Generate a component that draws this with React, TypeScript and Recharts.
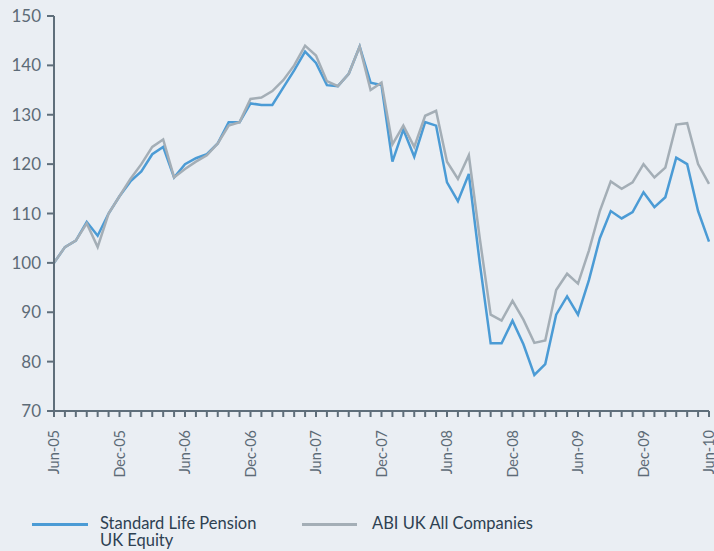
import { LineChart, Line, XAxis, YAxis, Legend } from 'recharts'

// Monthly, Jun-05 .. Jun-10 (61 points)
const MONTHS = [
  'Jun-05', 'Jul-05', 'Aug-05', 'Sep-05', 'Oct-05', 'Nov-05',
  'Dec-05', 'Jan-06', 'Feb-06', 'Mar-06', 'Apr-06', 'May-06',
  'Jun-06', 'Jul-06', 'Aug-06', 'Sep-06', 'Oct-06', 'Nov-06',
  'Dec-06', 'Jan-07', 'Feb-07', 'Mar-07', 'Apr-07', 'May-07',
  'Jun-07', 'Jul-07', 'Aug-07', 'Sep-07', 'Oct-07', 'Nov-07',
  'Dec-07', 'Jan-08', 'Feb-08', 'Mar-08', 'Apr-08', 'May-08',
  'Jun-08', 'Jul-08', 'Aug-08', 'Sep-08', 'Oct-08', 'Nov-08',
  'Dec-08', 'Jan-09', 'Feb-09', 'Mar-09', 'Apr-09', 'May-09',
  'Jun-09', 'Jul-09', 'Aug-09', 'Sep-09', 'Oct-09', 'Nov-09',
  'Dec-09', 'Jan-10', 'Feb-10', 'Mar-10', 'Apr-10', 'May-10',
  'Jun-10',
]

const STANDARD_LIFE = [
  100, 103.2, 104.5, 108.3, 105.5, 110, 113.5, 116.5, 118.5, 122, 123.5, 117.3,
  120, 121.2, 122, 124.2, 128.5, 128.5, 132.3, 132, 132, 135.5, 139, 142.8,
  140.5, 136, 135.8, 138.3, 143.8, 136.5, 136, 120.5, 127, 121.5, 128.5, 127.8,
  116.3, 112.5, 118, 100, 83.7, 83.7, 88.3, 83.5, 77.3, 79.5, 89.5, 93.2,
  89.5, 96.5, 105, 110.5, 109, 110.3, 114.3, 111.3, 113.3, 121.3, 120, 110.5,
  104.3,
]

const ABI_UK = [
  100, 103.2, 104.5, 108, 103.2, 110, 113.5, 117, 120, 123.5, 125, 117.3,
  119, 120.5, 121.8, 124.2, 127.8, 128.5, 133.2, 133.5, 134.8, 137, 140, 144,
  142, 136.8, 135.8, 138.3, 143.8, 135, 136.5, 124, 127.8, 123.5, 129.8, 130.8,
  120.5, 117, 121.8, 105, 89.5, 88.3, 92.3, 88.5, 83.8, 84.3, 94.5, 97.8,
  95.8, 102.5, 110.5, 116.5, 115, 116.3, 120, 117.3, 119.3, 128, 128.3, 120,
  116,
]

const Y_TICKS = [70, 80, 90, 100, 110, 120, 130, 140, 150]

const BLUE = '#4b9bd5'
const GREY = '#a4aeb6'
const AXIS = '#5f6e7a'
const FONT = 'Lato, "Open Sans", sans-serif'

const rows = MONTHS.map((m, i) => ({ month: m, sl: STANDARD_LIFE[i], abi: ABI_UK[i] }))

function MonthTick(props: any) {
  const { x, y, payload, index } = props
  if (index % 6 !== 0) return null
  return (
    <text
      x={x}
      y={y + 11}
      dy="0.35em"
      transform={`rotate(-90, ${x}, ${y + 11})`}
      textAnchor="end"
      fill="#5d6b77"
      fontSize={14.5}
      fontFamily={FONT}
    >
      {payload.value}
    </text>
  )
}

function LegendBox() {
  const text = { color: '#2e4152', fontSize: 16.5, fontFamily: FONT, lineHeight: '16.5px' }
  return (
    <div style={{ position: 'relative', width: 714, height: 40 }}>
      <div style={{ position: 'absolute', left: 32, top: 12, width: 56, height: 3, background: BLUE }} />
      <div style={{ position: 'absolute', left: 100, top: 4, ...text }}>
        Standard Life Pension
        <br />
        UK Equity
      </div>
      <div style={{ position: 'absolute', left: 302, top: 12, width: 55, height: 3, background: GREY }} />
      <div style={{ position: 'absolute', left: 372, top: 4, ...text }}>ABI UK All Companies</div>
    </div>
  )
}

export default function App() {
  return (
    <div style={{ position: 'absolute', left: 0, top: 0, width: 714, height: 551, background: '#eaeef3' }}>
      <LineChart width={714} height={551} data={rows} margin={{ top: 16, right: 5, left: 0, bottom: 40 }}>
        <XAxis
          dataKey="month"
          interval={0}
          height={60}
          tick={<MonthTick />}
          tickSize={6}
          stroke={AXIS}
          strokeWidth={2}
        />
        <YAxis
          domain={[70, 150]}
          ticks={Y_TICKS}
          width={54}
          tickSize={7}
          tickMargin={6}
          stroke={AXIS}
          strokeWidth={2}
          tick={{ fill: '#5d6b77', fontSize: 17, fontFamily: FONT }}
        />
        <Line
          dataKey="sl"
          stroke={BLUE}
          strokeWidth={2.5}
          dot={false}
          isAnimationActive={false}
          strokeLinejoin="miter"
        />
        <Line
          dataKey="abi"
          stroke={GREY}
          strokeWidth={2.5}
          dot={false}
          isAnimationActive={false}
          strokeLinejoin="miter"
        />
        <Legend
          content={() => <LegendBox />}
          wrapperStyle={{ left: 0, top: 511, width: 714 }}
        />
      </LineChart>
    </div>
  )
}
